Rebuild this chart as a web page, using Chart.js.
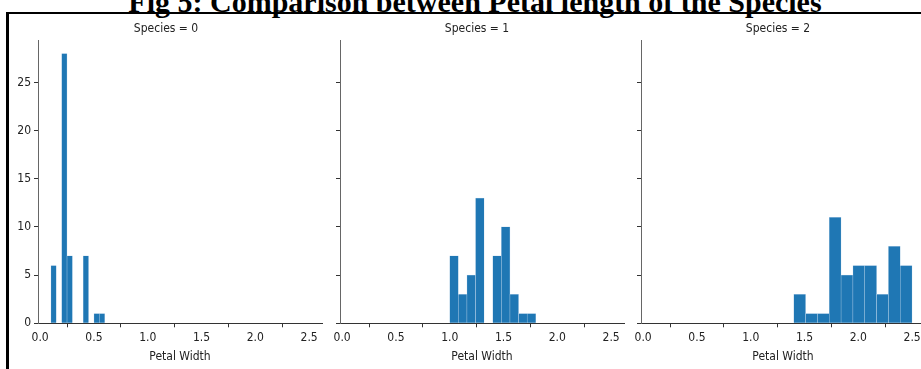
<!DOCTYPE html>
<html>
<head>
<meta charset="utf-8">
<script src="https://cdn.jsdelivr.net/npm/chart.js@4.4.1/dist/chart.umd.min.js"></script>
<style>
  html, body { margin: 0; padding: 0; background: #fff; }
  body { width: 921px; height: 369px; position: relative; overflow: hidden; }
  #mainTitle {
    position: absolute; left: 0; width: 950px; top: -13px;
    text-align: center; font: bold 30px "Liberation Serif", "Times New Roman", serif;
    line-height: 30px; color: #000; white-space: nowrap;
  }
  #frame {
    position: absolute; left: 6px; top: 12px; width: 1000px; height: 400px;
    border-left: 3px solid #000; border-top: 2px solid #000;
  }
  .panel { position: absolute; top: 20px; height: 349px; }
</style>
</head>
<body>
<div id="frame"></div>
<div id="mainTitle">Fig 5: Comparison between Petal length of the Species</div>
<div class="panel" style="left:10px;width:318px"><canvas id="c0"></canvas></div>
<div class="panel" style="left:330px;width:300px"><canvas id="c1"></canvas></div>
<div class="panel" style="left:631px;width:300px"><canvas id="c2"></canvas></div>

<script>
// histogram counts (10 bins each)
const species0Counts = [6, 0, 28, 7, 0, 0, 7, 0, 1, 1];
const species1Counts = [7, 3, 5, 13, 0, 7, 10, 3, 1, 1];
const species2Counts = [3, 1, 1, 11, 5, 6, 6, 3, 8, 6];
const binStarts = [0.1, 1.0, 1.4];
const binWidths = [0.05, 0.08, 0.11];
const panelTitles = ['Species = 0', 'Species = 1', 'Species = 2'];
const xTicks = [0.0, 0.5, 1.0, 1.5, 2.0, 2.5];
const yTicks = [0, 5, 10, 15, 20, 25];

const allCounts = [species0Counts, species1Counts, species2Counts];
const FONT = '"DejaVu Sans Condensed", "DejaVu Sans", sans-serif';
const barColor = '#1f77b4';

function makePanel(idx) {
    const counts = allCounts[idx];
    const points = counts.map((c, i) => ({ x: binStarts[idx] + binWidths[idx] * (i + 0.5), y: c }));
    const yWidth = idx === 0 ? 28 : 10;

    return new Chart(document.getElementById('c' + idx), {
        type: 'bar',
        data: {
            datasets: [{
                data: points,
                backgroundColor: barColor,
                borderColor: '#b9d3ea',
                borderWidth: 0.5,
                borderSkipped: 'bottom',
                barPercentage: 1,
                categoryPercentage: 1
            }]
        },
        options: {
            responsive: true,
            maintainAspectRatio: false,
            animation: false,
            layout: { padding: { left: 0, right: 6, top: 0, bottom: 5 } },
            plugins: {
                legend: { display: false },
                tooltip: { enabled: false },
                title: {
                    display: true,
                    text: panelTitles[idx],
                    color: '#222',
                    font: { family: FONT, size: 12, weight: 'normal' },
                    padding: { top: 2, bottom: 3.6 }
                }
            },
            scales: {
                x: {
                    type: 'linear',
                    offset: false,
                    min: -0.02,
                    max: 2.62,
                    afterBuildTicks: s => { s.ticks = xTicks.map(v => ({ value: v })); },
                    afterFit: s => { s.height = 40.7; },
                    grid: { drawOnChartArea: false, drawTicks: true, tickLength: 4, tickColor: '#333' },
                    border: { display: true, color: '#333', width: 1 },
                    ticks: {
                        color: '#222', padding: 3,
                        font: { family: FONT, size: 12 },
                        maxRotation: 0,
                        callback: v => Number(v).toFixed(1)
                    },
                    title: {
                        display: true, text: 'Petal Width', color: '#222',
                        font: { family: FONT, size: 12 },
                        padding: { top: 2, bottom: 0 }
                    }
                },
                y: {
                    min: 0,
                    max: 29.4,
                    afterBuildTicks: s => { s.ticks = yTicks.map(v => ({ value: v })); },
                    afterFit: s => { s.width = yWidth; },
                    grid: { drawOnChartArea: false, drawTicks: true, tickLength: 4, tickColor: '#333' },
                    border: { display: true, color: '#666', width: 1 },
                    ticks: {
                        color: '#222', padding: 3,
                        font: { family: FONT, size: 12 },
                        callback: v => idx === 0 ? String(v) : ''
                    }
                }
            }
        }
    });
}

const charts = [0, 1, 2].map(makePanel);
</script>
</body>
</html>
